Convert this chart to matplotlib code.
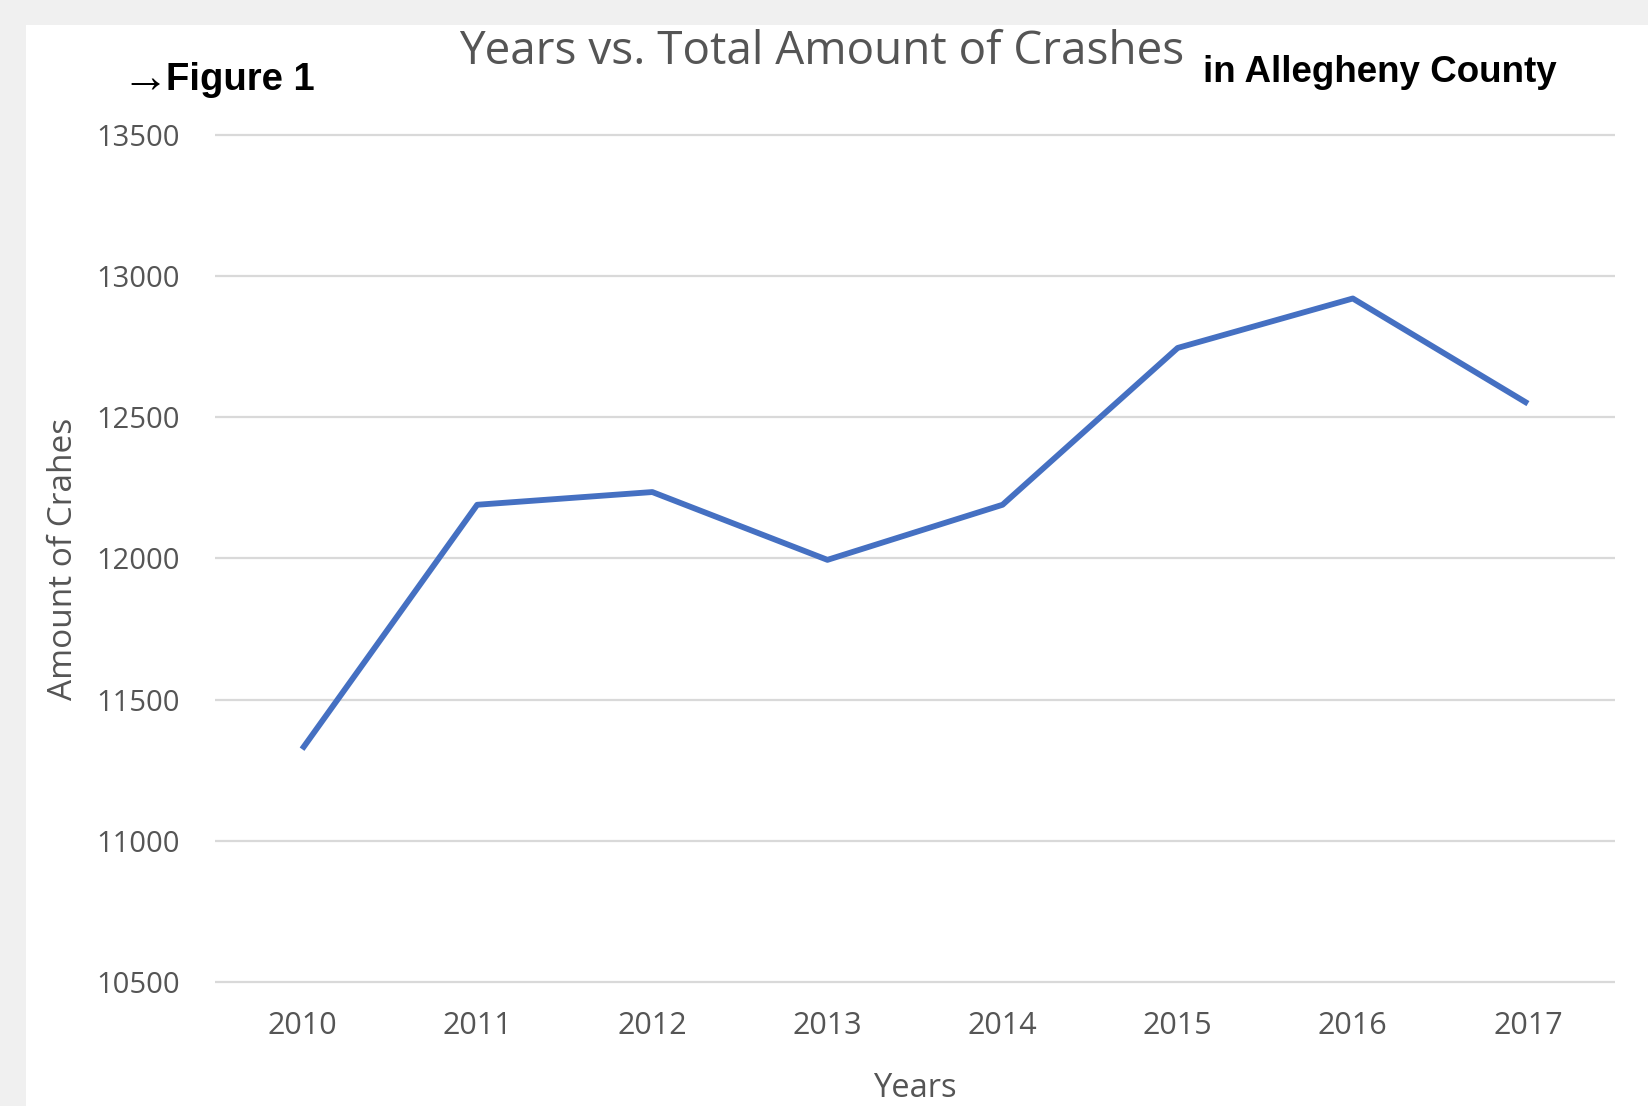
import matplotlib
matplotlib.use("Agg")
import matplotlib.pyplot as plt
from matplotlib.patches import Rectangle

# data
years = ['2010', '2011', '2012', '2013', '2014', '2015', '2016', '2017']
crashes = [11325, 12190, 12235, 11995, 12190, 12745, 12920, 12548]
y_ticks = [10500, 11000, 11500, 12000, 12500, 13000, 13500]

W, H = 1649, 1106
GRAY_TXT = '#555555'
fig = plt.figure(figsize=(W / 100, H / 100), dpi=100)
fig.patch.set_facecolor('#f0f0f0')
# white panel of the screenshot
fig.patches.append(Rectangle((26 / W, 0), 1 - 26 / W, 1 - 25 / H, transform=fig.transFigure,
                             facecolor='white', edgecolor='none', zorder=-5))

ax = fig.add_axes([214.5 / W, 123.7 / H, 1401 / W, 847.7 / H])
ax.set_facecolor('none')
x = list(range(len(years)))

ax.hlines(y_ticks, -0.5, 7.5, color='#d9d9d9', lw=1.6, clip_on=False, zorder=1)
ax.plot(x, crashes, color='#4570c2', lw=4.2, solid_joinstyle='round', solid_capstyle='butt', zorder=3)

ax.set_xlim(-0.5, 7.5)
ax.set_ylim(10500, 13500)
ax.set_xticks(x)
ax.set_xticklabels(years)
ax.set_yticks(y_ticks)
ax.set_yticklabels([str(v) for v in y_ticks])
for s in ax.spines.values():
    s.set_visible(False)
ax.tick_params(axis='both', length=0, colors=GRAY_TXT)
ax.tick_params(axis='y', pad=25, labelsize=21)
ax.tick_params(axis='x', pad=21, labelsize=22)
for lab in ax.get_xticklabels() + ax.get_yticklabels():
    lab.set_family('Open Sans')

ax.set_xlabel('Years', fontsize=23.5, color=GRAY_TXT, family='Open Sans', labelpad=22)
ax.set_ylabel('Amount of Crahes', fontsize=24, color=GRAY_TXT, family='Open Sans')
ax.yaxis.set_label_coords((80 - 214.5) / 1401, 0.5)

# titles
fig.text(822 / W, 1 - 52 / H, 'Years vs. Total Amount of Crashes', ha='center', va='center',
         fontsize=33, color=GRAY_TXT, family='Open Sans')
fig.text(169 / W, 1 - 80 / H, '\u2192', ha='right', va='center', fontsize=34,
         color='black', family=['Liberation Sans', 'DejaVu Sans'])
fig.text(166 / W, 1 - 80 / H, 'Figure 1', ha='left', va='center', fontsize=27.5,
         color='black', fontweight='bold', family='Liberation Sans')
fig.text(1203 / W, 1 - 73 / H, 'in Allegheny County', ha='left', va='center', fontsize=26.5,
         color='black', fontweight='bold', family='Liberation Sans')

fig.savefig('out.png', dpi=100)
